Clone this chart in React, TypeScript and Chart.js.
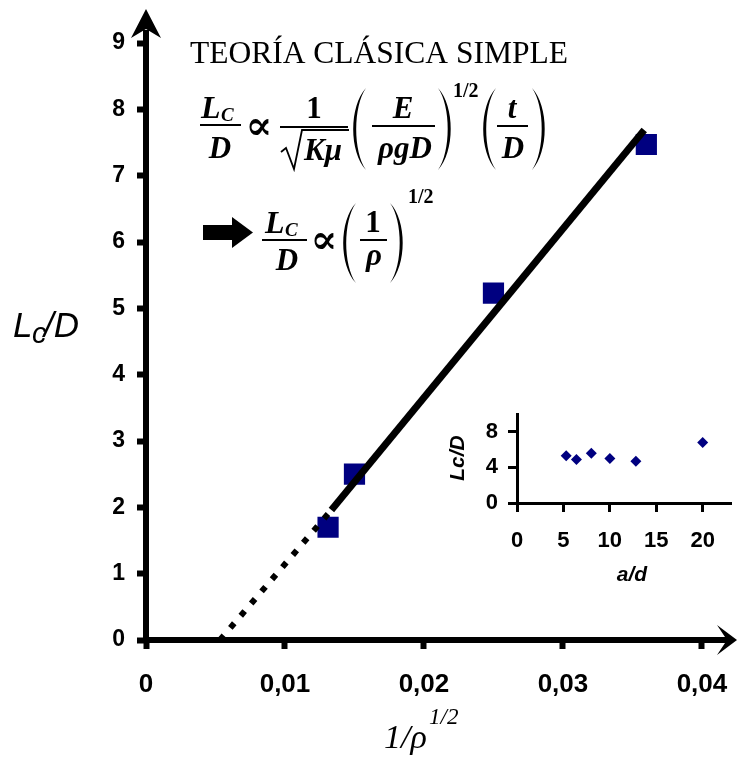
import React, { useEffect, useRef } from 'react';
import { Chart, registerables } from 'chart.js';

Chart.register(...registerables);

// ---------- data ----------
const measuredX = [0.0131, 0.015, 0.025, 0.036];
const measuredY = [1.7, 2.5, 5.23, 7.47];
const fitSolidX = [0.01334, 0.03585];
const fitSolidY = [1.96, 7.69];
const fitDottedX = [0.00532, 0.01334];
const fitDottedY = [0, 1.96];
const xTickLabels = ['0', '0,01', '0,02', '0,03', '0,04'];
const yTickLabels = ['0', '1', '2', '3', '4', '5', '6', '7', '8', '9'];

const insetX = [5.3, 6.4, 8.0, 10.0, 12.8, 20.0];
const insetY = [5.3, 4.9, 5.6, 5.0, 4.7, 6.8];
const insetXTickLabels = ['0', '5', '10', '15', '20'];
const insetYTickLabels = ['0', '4', '8'];

const titleText = 'TEORÍA CLÁSICA SIMPLE';
const yTitleParts = ['L', 'c', '/D'];
const xTitleParts = ['1/ρ', '1/2'];
const insetYTitle = 'Lc/D';
const insetXTitle = 'a/d';

const SERIF = "'Liberation Serif', 'Times New Roman', 'DejaVu Serif', serif";
const SANS = "'Liberation Sans', Arial, sans-serif";
const BI = (px: number) => `italic bold ${px}px ${SERIF}`;
const B = (px: number) => `bold ${px}px ${SERIF}`;

const toPts = (xs: number[], ys: number[]) => xs.map((x, i) => ({ x, y: ys[i] }));

const fixX = (h: number) => (s: any) => {
  s.height = h;
  s.paddingLeft = 0;
  s.paddingRight = 0;
  s.paddingTop = 0;
  s.paddingBottom = 0;
};
const fixY = (w: number) => (s: any) => {
  s.width = w;
  s.paddingLeft = 0;
  s.paddingRight = 0;
  s.paddingTop = 0;
  s.paddingBottom = 0;
};

const mainPlugin = {
  id: 'mainDecor',
  afterDraw(chart: any) {
    const ctx: CanvasRenderingContext2D = chart.ctx;
    const xs = chart.scales.x;
    const ys = chart.scales.y;
    const ox = xs.getPixelForValue(0);
    const oy = ys.getPixelForValue(0);
    ctx.save();
    ctx.fillStyle = '#000';
    ctx.strokeStyle = '#000';
    // axes
    ctx.lineWidth = 6;
    ctx.lineCap = 'butt';
    ctx.beginPath();
    ctx.moveTo(ox, oy + 3);
    ctx.lineTo(ox, 30);
    ctx.stroke();
    ctx.beginPath();
    ctx.moveTo(ox - 3, oy);
    ctx.lineTo(727, oy);
    ctx.stroke();
    // arrowheads
    ctx.beginPath();
    ctx.moveTo(ox, 9);
    ctx.lineTo(ox + 15, 38);
    ctx.lineTo(ox, 29);
    ctx.lineTo(ox - 15, 38);
    ctx.closePath();
    ctx.fill();
    ctx.beginPath();
    ctx.moveTo(737, oy);
    ctx.lineTo(717, oy - 15);
    ctx.lineTo(727, oy);
    ctx.lineTo(717, oy + 15);
    ctx.closePath();
    ctx.fill();

    const txt = (s: string, x: number, y: number, font: string, align: CanvasTextAlign = 'left') => {
      ctx.font = font;
      ctx.textAlign = align;
      ctx.textBaseline = 'alphabetic';
      ctx.fillText(s, x, y);
    };
    const bar = (x1: number, x2: number, y: number) => {
      ctx.lineWidth = 2;
      ctx.beginPath();
      ctx.moveTo(x1, y);
      ctx.lineTo(x2, y);
      ctx.stroke();
    };
    const paren = (x0: number, top: number, bot: number, dir: number) => {
      const h = bot - top;
      ctx.beginPath();
      ctx.moveTo(x0, top);
      ctx.bezierCurveTo(x0 + dir * 17, top + h * 0.22, x0 + dir * 17, bot - h * 0.22, x0, bot);
      ctx.bezierCurveTo(x0 + dir * 13, bot - h * 0.22, x0 + dir * 13, top + h * 0.22, x0, top);
      ctx.closePath();
      ctx.fill();
    };

    // title
    txt(titleText, 190, 63, `31.5px ${SERIF}`);

    // formula 1
    txt('L', 201, 118, BI(32));
    txt('C', 221, 121, BI(19));
    bar(200, 241, 125);
    txt('D', 220, 158, BI(31), 'center');
    txt('∝', 259, 139, B(40), 'center');
    txt('1', 314, 118, B(31), 'center');
    bar(280, 348, 127);
    ctx.lineWidth = 1.8;
    ctx.beginPath();
    ctx.moveTo(281, 152);
    ctx.lineTo(286, 148);
    ctx.lineTo(294, 169);
    ctx.lineTo(302, 130);
    ctx.lineTo(349, 130);
    ctx.stroke();
    txt('Kμ', 304, 160, BI(31));
    paren(366, 88, 170, -1);
    txt('E', 403, 118, BI(31), 'center');
    bar(372, 435, 126);
    txt('ρgD', 405, 158, BI(31), 'center');
    paren(438, 88, 170, 1);
    txt('1/2', 453, 97, B(20));
    paren(496, 88, 170, -1);
    txt('t', 512, 118, BI(31), 'center');
    bar(497, 528, 126);
    txt('D', 513, 158, BI(31), 'center');
    paren(532, 88, 170, 1);

    // formula 2
    ctx.fillRect(203, 225, 30, 15);
    ctx.beginPath();
    ctx.moveTo(232, 217);
    ctx.lineTo(253, 232.5);
    ctx.lineTo(232, 248);
    ctx.closePath();
    ctx.fill();
    txt('L', 265, 233, BI(32));
    txt('C', 285, 236, BI(19));
    bar(262, 307, 240);
    txt('D', 287, 270, BI(31), 'center');
    txt('∝', 324, 253, B(40), 'center');
    paren(356, 203, 283, -1);
    txt('1', 373, 232, B(31), 'center');
    bar(360, 387, 240);
    txt('ρ', 374, 265, BI(31), 'center');
    paren(390, 203, 283, 1);
    txt('1/2', 408, 203, B(20));

    // axis titles
    txt(yTitleParts[0], 13, 337, `italic 35px ${SANS}`);
    txt(yTitleParts[1], 32, 343, `italic 29px ${SANS}`);
    txt(yTitleParts[2], 44, 337, `italic 35px ${SANS}`);
    txt(xTitleParts[0], 384, 748, `italic 34px ${SERIF}`);
    txt(xTitleParts[1], 429, 724, `italic 23px ${SERIF}`);
    ctx.restore();
  },
};

const insetPlugin = {
  id: 'insetDecor',
  afterDraw(chart: any) {
    const ctx: CanvasRenderingContext2D = chart.ctx;
    ctx.save();
    ctx.fillStyle = '#000';
    ctx.font = `italic bold 21px ${SANS}`;
    ctx.textAlign = 'center';
    ctx.textBaseline = 'middle';
    ctx.translate(38, 58);
    ctx.rotate(-Math.PI / 2);
    ctx.fillText(insetYTitle, 0, 0);
    ctx.restore();
    ctx.save();
    ctx.fillStyle = '#000';
    ctx.font = `italic bold 21px ${SANS}`;
    ctx.textAlign = 'center';
    ctx.textBaseline = 'middle';
    ctx.fillText(insetXTitle, 212, 175);
    ctx.restore();
  },
};

export default function App() {
  const mainRef = useRef<HTMLCanvasElement>(null);
  const insetRef = useRef<HTMLCanvasElement>(null);

  useEffect(() => {
    document.body.style.margin = '0';
    const main = new Chart(mainRef.current as HTMLCanvasElement, {
      type: 'scatter',
      data: {
        datasets: [
          {
            label: 'ajuste',
            data: toPts(fitSolidX, fitSolidY),
            showLine: true,
            borderColor: '#000',
            borderWidth: 7,
            borderCapStyle: 'butt',
            pointRadius: 0,
            order: 0,
          },
          {
            label: 'extrapolación',
            data: toPts(fitDottedX, fitDottedY),
            showLine: true,
            borderColor: '#000',
            borderWidth: 6,
            borderDash: [6, 10],
            borderCapStyle: 'butt',
            pointRadius: 0,
            order: 0,
          },
          {
            label: 'datos',
            data: toPts(measuredX, measuredY),
            pointStyle: 'rect',
            pointRadius: 15,
            pointHoverRadius: 15,
            backgroundColor: '#000080',
            borderWidth: 0,
            order: 1,
          },
        ],
      } as any,
      options: {
        responsive: false,
        animation: false,
        events: [],
        layout: { padding: { top: 16.5, right: 17, bottom: 0, left: 0 } },
        plugins: { legend: { display: false }, tooltip: { enabled: false } },
        scales: {
          x: {
            type: 'linear',
            min: 0,
            max: 0.0413,
            afterFit: fixX(118),
            ticks: {
              stepSize: 0.01,
              includeBounds: false,
              autoSkip: false,
              maxRotation: 0,
              padding: 20,
              color: '#000',
              font: { family: SANS, size: 26, weight: 'bold' },
              callback: (v: any) => xTickLabels[Math.round(Number(v) / 0.01)] ?? '',
            },
            grid: { drawOnChartArea: false, drawTicks: true, tickLength: 9, tickWidth: 6, color: '#000' },
            border: { display: false },
          },
          y: {
            type: 'linear',
            min: 0,
            max: 9.4,
            afterFit: fixY(146),
            ticks: {
              stepSize: 1,
              includeBounds: false,
              autoSkip: false,
              padding: 12,
              color: '#000',
              font: { family: SANS, size: 23, weight: 'bold' },
              callback: (v: any) => yTickLabels[Math.round(Number(v))] ?? '',
            },
            grid: { drawOnChartArea: false, drawTicks: true, tickLength: 9, tickWidth: 6, color: '#000' },
            border: { display: false },
          },
        },
      } as any,
      plugins: [mainPlugin],
    });

    const inset = new Chart(insetRef.current as HTMLCanvasElement, {
      type: 'scatter',
      data: {
        datasets: [
          {
            label: 'Lc/D',
            data: toPts(insetX, insetY),
            pointStyle: 'rectRot',
            pointRadius: 5.5,
            pointHoverRadius: 5.5,
            backgroundColor: '#000080',
            borderWidth: 0,
          },
        ],
      } as any,
      options: {
        responsive: false,
        animation: false,
        events: [],
        layout: { padding: { top: 14, right: 0, bottom: 0, left: 0 } },
        plugins: { legend: { display: false }, tooltip: { enabled: false } },
        scales: {
          x: {
            type: 'linear',
            min: 0,
            max: 23.1,
            afterFit: fixX(97),
            ticks: {
              stepSize: 5,
              includeBounds: false,
              autoSkip: false,
              maxRotation: 0,
              padding: 16,
              color: '#000',
              font: { family: SANS, size: 22, weight: 'bold' },
              callback: (v: any) => insetXTickLabels[Math.round(Number(v) / 5)] ?? '',
            },
            grid: { drawOnChartArea: false, drawTicks: true, tickLength: 9, tickWidth: 3, color: '#000' },
            border: { display: true, width: 3, color: '#000' },
          },
          y: {
            type: 'linear',
            min: 0,
            max: 10,
            afterFit: fixY(97),
            ticks: {
              stepSize: 4,
              includeBounds: false,
              autoSkip: false,
              padding: 10,
              color: '#000',
              font: { family: SANS, size: 22, weight: 'bold' },
              callback: (v: any) => insetYTickLabels[Math.round(Number(v) / 4)] ?? '',
            },
            grid: { drawOnChartArea: false, drawTicks: true, tickLength: 9, tickWidth: 3, color: '#000' },
            border: { display: true, width: 3, color: '#000' },
          },
        },
      } as any,
      plugins: [insetPlugin],
    });

    return () => {
      main.destroy();
      inset.destroy();
    };
  }, []);

  return (
    <div style={{ position: 'relative', width: 737, height: 758, background: '#fff', overflow: 'hidden' }}>
      <canvas ref={mainRef} width={737} height={758} style={{ position: 'absolute', left: 0, top: 0 }} />
      <canvas ref={insetRef} width={317} height={200} style={{ position: 'absolute', left: 420, top: 400 }} />
    </div>
  );
}
